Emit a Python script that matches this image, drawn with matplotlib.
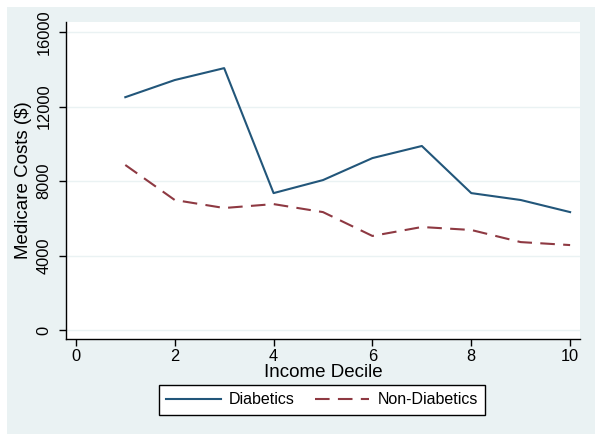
import matplotlib
matplotlib.use("Agg")
import matplotlib.pyplot as plt
from matplotlib.patches import Rectangle

plt.rcParams['font.family'] = ['Liberation Sans', 'DejaVu Sans']

decile = [1, 2, 3, 4, 5, 6, 7, 8, 9, 10]
diabetics = [12500, 13420, 14060, 7350, 8050, 9230, 9880, 7350, 6980, 6330]
non_diabetics = [8860, 6980, 6550, 6760, 6330, 5050, 5530, 5370, 4720, 4560]
x_ticks = [0, 2, 4, 6, 8, 10]
y_ticks = [0, 4000, 8000, 12000, 16000]

bg = '#eaf2f3'
navy = '#22567a'
maroon = '#8e3942'

fig = plt.figure(figsize=(6.01, 4.42), dpi=100)
fig.patch.set_facecolor('white')
fig.patches.append(Rectangle((7/601, 1-434/442), (595-7)/601, (434-7)/442,
                             transform=fig.transFigure, facecolor=bg,
                             edgecolor='none', zorder=-10))

ax = fig.add_axes([66/601, 1-339/442, (580-66)/601, (339-22)/442])
ax.set_facecolor('white')

ax.plot(decile, diabetics, color=navy, lw=1.5, label='Diabetics')
ax.plot(decile, non_diabetics, color=maroon, lw=1.5, dashes=(7, 4),
        label='Non-Diabetics')

ax.set_xlim(-0.2, 10.2)
ax.set_ylim(-483, 16537)
ax.set_xticks(x_ticks)
ax.set_yticks(y_ticks)
ax.set_yticklabels([str(v) for v in y_ticks], rotation=90, va='center')
ax.tick_params(axis='both', labelsize=11.8, length=5, width=1, direction='out')
ax.tick_params(axis='y', pad=5.5)
ax.tick_params(axis='x', pad=2.5)
ax.grid(axis='y', color=bg, lw=1)
ax.set_axisbelow(True)

for s in ['top', 'right']:
    ax.spines[s].set_visible(False)
for s in ['left', 'bottom']:
    ax.spines[s].set_linewidth(1)

ax.set_xlabel('Income Decile', fontsize=13.5, labelpad=0)
ax.set_ylabel('Medicare Costs ($)', fontsize=13.5, labelpad=3)

leg = fig.legend(loc='center', bbox_to_anchor=(322/601, 1-400/442), ncol=2,
                 fontsize=11.5, frameon=True, fancybox=False, handlelength=3.4,
                 columnspacing=1.3, borderpad=0.45, handletextpad=0.5,
                 framealpha=1)
leg.get_frame().set_edgecolor('black')
leg.get_frame().set_linewidth(1)

fig.savefig('out.png', dpi=100, facecolor='white')
